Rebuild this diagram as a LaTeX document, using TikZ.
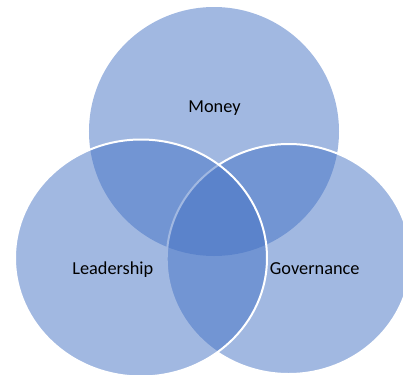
\documentclass[tikz,border=0pt]{standalone}
\usepackage{fontspec}
\setmainfont{Carlito}
\usetikzlibrary{shapes.geometric}
\definecolor{vennblue}{HTML}{4472C4}
\tikzset{
  venn/.style={ellipse, inner sep=0pt, fill=vennblue, fill opacity=0.5, draw=white, draw opacity=1, line width=2bp},
  vennlabel/.style={anchor=base, text=black, font=\fontsize{18.3bp}{22bp}\selectfont, inner sep=0pt}
}
\begin{document}
\begin{tikzpicture}[x=1bp,y=-1bp]
\useasboundingbox (0,0) rectangle (403,375);
\node[venn, draw=none, minimum width=250bp, minimum height=249bp] (money) at (214,131.5) {};
\node[venn, minimum width=244bp, minimum height=230bp] (gov) at (288.7,259) {};
\node[venn, minimum width=252bp, minimum height=237bp] (lead) at (141,258) {};
\node[vennlabel] (tmoney) at (214.5,112.5) {Money};
\node[vennlabel] (tlead) at (112.8,274) {Leadership};
\node[vennlabel] (tgov) at (314.7,274) {Governance};
\end{tikzpicture}
\end{document}
